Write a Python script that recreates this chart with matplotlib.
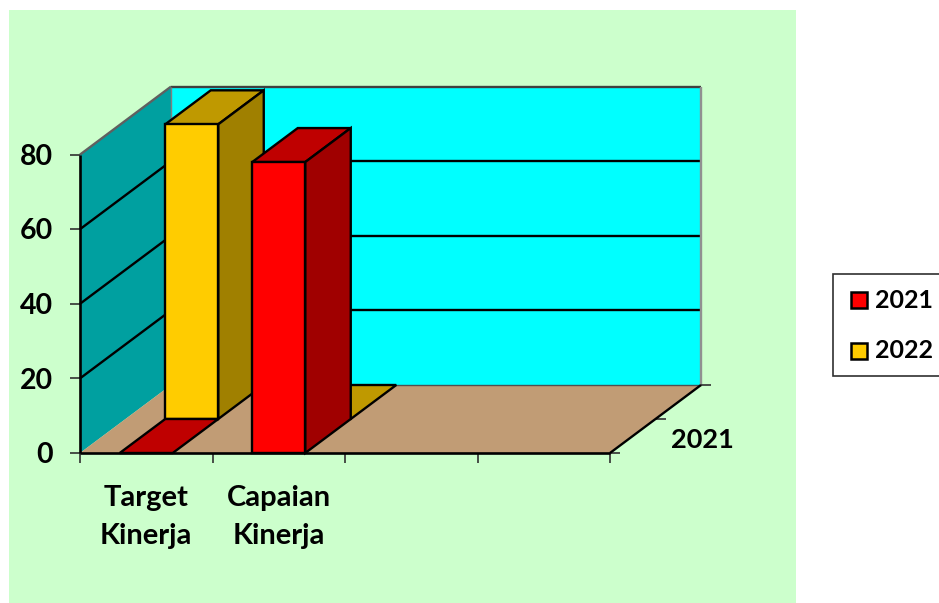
import matplotlib
matplotlib.use('Agg')
import matplotlib.pyplot as plt
from matplotlib.patches import Polygon, Rectangle

plt.rcParams['font.family'] = ['Lato', 'DejaVu Sans']

# data
categories = ['Target\nKinerja', 'Capaian\nKinerja', '', '']
y_ticks = [0, 20, 40, 60, 80]
series_names = ['2021', '2022']
values_2021 = [0, 78, 0, 0]
values_2022 = [79, 0, 0, 0]
depth_label = '2021'

# warna
c_bg = '#CCFFCC'
c_back = '#00FFFF'
c_side = '#00A0A0'
c_floor = '#C19C75'
c_2021 = ['#FF0000', '#BF0000', '#A00000']   # depan, atas, samping
c_2022 = ['#FFCC00', '#BF9900', '#A08000']

W, H = 939, 603
px_x = 132.5     # pixel per kategori
px_y = 3.73      # pixel per nilai
x0, y0 = 80, 453
dx = 45.5 / px_x     # kedalaman satu baris
dy = 34 / px_y
bar_w = 0.4

fig = plt.figure(figsize=(W / 100, H / 100), dpi=100, facecolor='white')
fig.add_artist(Rectangle((9 / W, 0), 787 / W, 593 / H, transform=fig.transFigure,
                         facecolor=c_bg, edgecolor='none', zorder=-5))
ax = fig.add_axes([0, 0, 1, 1])
ax.patch.set_alpha(0)
ax.axis('off')
ax.set_xlim(-x0 / px_x, (W - x0) / px_x)
ax.set_ylim(-(H - y0) / px_y, y0 / px_y)


def P(x, v, d=0):
    # proyeksi miring: kategori, nilai, kedalaman
    return (x + d * dx, v + d * dy)


def poly(pts, fc, ec='black', lw=1.7, z=2):
    ax.add_patch(Polygon(pts, closed=True, facecolor=fc, edgecolor=ec, linewidth=lw,
                         joinstyle='miter', zorder=z))


def line(a, b, c='black', lw=1.7, z=1.5):
    ax.plot([a[0], b[0]], [a[1], b[1]], color=c, lw=lw, zorder=z, solid_capstyle='butt')


n = len(categories)
top = y_ticks[-1]

# dinding dan lantai
poly([P(0, 0, 2), P(n, 0, 2), P(n, top, 2), P(0, top, 2)], c_back, ec='none', z=1)
poly([P(0, 0), P(0, 0, 2), P(0, top, 2), P(0, top)], c_side, ec='none', z=1)
poly([P(0, 0), P(n, 0), P(n, 0, 2), P(0, 0, 2)], c_floor, ec='none', z=1.2)
for t in y_ticks[1:-1]:
    line(P(0, t), P(0, t, 2))
    line(P(0, t, 2), P(n, t, 2))
line(P(0, top), P(0, top, 2), c='#606060')
line(P(0, top, 2), P(n, top, 2), c='#404040')
line(P(0, top, 2), P(0, 0, 2), c='#808080', lw=1)
line(P(n, top, 2), P(n, 0, 2), c='#909090')
line(P(0, 0, 2), P(n, 0, 2), c='#505050', lw=1)
line(P(0, 0), P(0, top), lw=1.9, z=1.6)
line(P(0, 0), P(n, 0), lw=1.9, z=1.6)
line(P(n, 0), P(n, 0, 2), lw=1.7, z=1.6)


def bar(i, v, row, cols):
    a = i + 0.5 - bar_w / 2
    b = i + 0.5 + bar_w / 2
    z = 3 + (1 - row) * 10 + i * 0.1
    poly([P(a, v, row), P(b, v, row), P(b, v, row + 1), P(a, v, row + 1)], cols[1], z=z)
    if v > 0:
        poly([P(b, 0, row), P(b, 0, row + 1), P(b, v, row + 1), P(b, v, row)], cols[2], z=z)
        poly([P(a, 0, row), P(b, 0, row), P(b, v, row), P(a, v, row)], cols[0], z=z)


for i in range(2):
    bar(i, values_2022[i], 1, c_2022)
for i in range(2):
    bar(i, values_2021[i], 0, c_2021)

# tick dan label
tick_y = 10 / px_y
tick_x = 10 / px_x
for t in y_ticks:
    line((-tick_x, t), (0, t), c='#303030', lw=1.2)
    ax.text(-0.205, t - 0.6, str(t), ha='right', va='center', fontsize=20.5, fontweight='bold', color='black')
for i in range(n + 1):
    line((i, 0), (i, -tick_y), c='#303030', lw=1.2)
for i, cat in enumerate(categories):
    if cat:
        ax.text(i + 0.5, -32 / px_y, cat, ha='center', va='top', fontsize=21, fontweight='bold',
                linespacing=1.55, color='black')
for d in [0, 1, 2]:
    a = P(n, 0, d)
    line(a, (a[0] + tick_x, a[1]), c='#303030', lw=1.2)
m = P(n, 0, 1)
ax.text(m[0] + 15 / px_x, m[1] - 21 / px_y, depth_label, ha='left', va='center', fontsize=19.5,
        fontweight='bold', color='black')

# legenda
fig.add_artist(Rectangle((833 / W, 1 - 376 / H), 110 / W, 102 / H, transform=fig.transFigure,
                         facecolor='white', edgecolor='#303030', linewidth=1.2))
for name, col, yy in zip(series_names, [c_2021[0], c_2022[0]], [300, 351]):
    fig.add_artist(Rectangle((851 / W, 1 - (yy + 8) / H), 16 / W, 16 / H, transform=fig.transFigure,
                             facecolor=col, edgecolor='black', linewidth=1.8))
    fig.text(875 / W, 1 - yy / H, name, ha='left', va='center', fontsize=18, fontweight='bold',
             color='black')

fig.savefig('out.png', dpi=100, facecolor='white')
